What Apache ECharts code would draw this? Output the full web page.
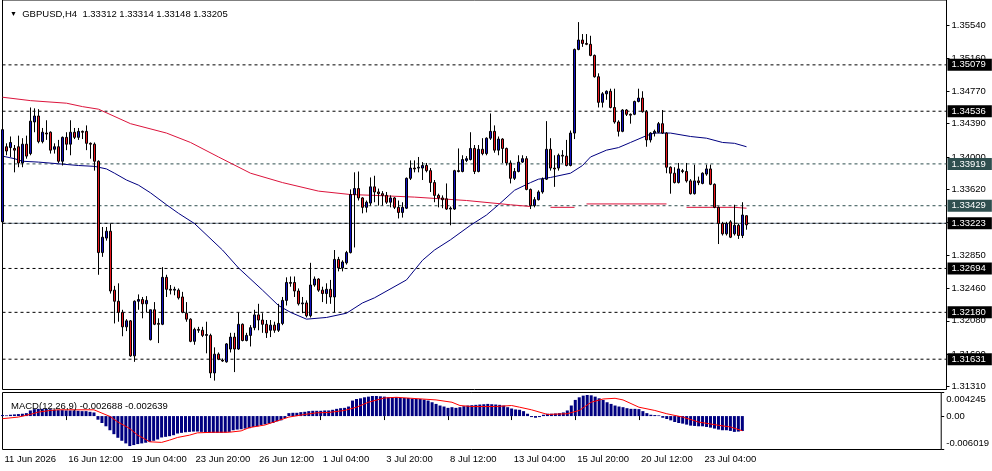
<!DOCTYPE html>
<html>
<head>
<meta charset="utf-8">
<title>GBPUSD H4</title>
<script src="https://cdn.jsdelivr.net/npm/echarts@6/dist/echarts.min.js"></script>
<style>
html,body{margin:0;padding:0;background:#fff;}
#chart{width:992px;height:471px;}
</style>
</head>
<body>
<div id="chart"></div>
<script>
// header texts
var symbolText = 'GBPUSD,H4  1.33312 1.33314 1.33148 1.33205';
var macdText = 'MACD(12,26,9) -0.002688 -0.002639';

// time axis labels, one every 16 bars
var xTickLabels = ['11 Jun 2026', '16 Jun 12:00', '19 Jun 04:00', '23 Jun 20:00', '26 Jun 12:00', '1 Jul 04:00',
  '3 Jul 20:00', '8 Jul 12:00', '13 Jul 04:00', '15 Jul 20:00', '20 Jul 12:00', '23 Jul 04:00'];

// price scale labels
var priceTicks = [1.3131, 1.3169, 1.3208, 1.3246, 1.3285, 1.3324, 1.3362, 1.3400, 1.3439, 1.3477, 1.3516, 1.3554];
var macdTicks = [-0.006019, 0, 0.004245];

// horizontal levels
var blackLevels = [1.35079, 1.34536, 1.32694, 1.32180, 1.31631];
var slateLevels = [1.33919, 1.33429];
var bidPrice = 1.33223;

// H4 bars
var opens = [1.3324,1.3412,1.3411,1.3410,1.3412,1.3393,1.3415,1.3404,1.3441,1.3448,
  1.3418,1.3428,1.3429,1.3409,1.3412,1.3395,1.3423,1.3415,1.3429,1.3423,
  1.3430,1.3430,1.3416,1.3415,1.3395,1.3288,1.3305,1.3313,1.3244,1.3231,
  1.3218,1.3201,1.3208,1.3167,1.3231,1.3233,1.3228,1.3186,1.3221,1.3205,
  1.3204,1.3259,1.3245,1.3244,1.3244,1.3236,1.3217,1.3210,1.3184,1.3198,
  1.3197,1.3191,1.3191,1.3147,1.3169,1.3162,1.3160,1.3175,1.3189,1.3175,
  1.3204,1.3185,1.3191,1.3200,1.3215,1.3209,1.3204,1.3197,1.3203,1.3197,
  1.3205,1.3232,1.3253,1.3253,1.3243,1.3228,1.3229,1.3214,1.3250,1.3257,
  1.3244,1.3240,1.3245,1.3236,1.3280,1.3270,1.3276,1.3288,1.3356,1.3363,
  1.3352,1.3341,1.3346,1.3365,1.3359,1.3357,1.3355,1.3347,1.3352,1.3341,
  1.3335,1.3340,1.3375,1.3387,1.3387,1.3387,1.3390,1.3384,1.3370,1.3355,
  1.3352,1.3351,1.3339,1.3339,1.3384,1.3383,1.3396,1.3397,1.3410,1.3383,
  1.3409,1.3404,1.3422,1.3430,1.3408,1.3421,1.3410,1.3393,1.3375,1.3383,
  1.3394,1.3398,1.3362,1.3343,1.3350,1.3359,1.3374,1.3409,1.3387,1.3387,
  1.3402,1.3401,1.3390,1.3428,1.3526,1.3537,1.3533,1.3532,1.3519,1.3494,
  1.3464,1.3474,1.3477,1.3458,1.3441,1.3430,1.3455,1.3450,1.3450,1.3465,
  1.3469,1.3453,1.3420,1.3428,1.3429,1.3439,1.3428,1.3388,1.3381,1.3370,
  1.3384,1.3383,1.3372,1.3357,1.3372,1.3369,1.3380,1.3386,1.3368,1.3341,
  1.3322,1.3310,1.3324,1.3310,1.3320,1.3308,1.33312];
var highs = [1.3434,1.3416,1.3424,1.3414,1.3425,1.3422,1.3425,1.3458,1.3457,1.3456,
  1.3434,1.3443,1.3430,1.3416,1.3420,1.3424,1.3429,1.3443,1.3434,1.3434,
  1.3431,1.3437,1.3417,1.3417,1.3396,1.3318,1.3318,1.3322,1.3249,1.3252,
  1.3221,1.3210,1.3209,1.3232,1.3239,1.3236,1.3237,1.3221,1.3230,1.3211,
  1.3271,1.3262,1.3250,1.3248,1.3246,1.3242,1.3230,1.3211,1.3200,1.3201,
  1.3201,1.3207,1.3193,1.3177,1.3171,1.3164,1.3182,1.3194,1.3194,1.3218,
  1.3205,1.3194,1.3203,1.3221,1.3228,1.3217,1.3209,1.3209,1.3207,1.3228,
  1.3236,1.3259,1.3260,1.3260,1.3246,1.3236,1.3232,1.3276,1.3260,1.3258,
  1.3248,1.3252,1.3256,1.3291,1.3283,1.3279,1.3290,1.3362,1.3382,1.3383,
  1.3353,1.3349,1.3376,1.3378,1.3363,1.3360,1.3359,1.3355,1.3353,1.3349,
  1.3347,1.3376,1.3396,1.3396,1.3400,1.3394,1.3393,1.3387,1.3373,1.3357,
  1.3355,1.3369,1.3342,1.3385,1.3410,1.3402,1.3401,1.3429,1.3414,1.3414,
  1.3422,1.3423,1.3451,1.3437,1.3424,1.3422,1.3411,1.3396,1.3387,1.3402,
  1.3402,1.3401,1.3363,1.3353,1.3361,1.3376,1.3442,1.3422,1.3402,1.3404,
  1.3408,1.3420,1.3431,1.3527,1.3558,1.3544,1.3544,1.3542,1.3520,1.3498,
  1.3476,1.3478,1.3480,1.3480,1.3443,1.3456,1.3456,1.3451,1.3466,1.3480,
  1.3477,1.3455,1.3429,1.3432,1.3441,1.3455,1.3429,1.3389,1.3388,1.3393,
  1.3386,1.3393,1.3374,1.3391,1.3377,1.3382,1.3391,1.3391,1.3369,1.3342,
  1.3324,1.3324,1.3326,1.3344,1.3322,1.3347,1.33314];
var lows = [1.3322,1.3402,1.3400,1.3382,1.3388,1.3388,1.3398,1.3402,1.3429,1.3416,
  1.3416,1.3420,1.3404,1.3404,1.3393,1.3390,1.3408,1.3402,1.3421,1.3420,
  1.3421,1.3408,1.3398,1.3384,1.3262,1.3283,1.3302,1.3240,1.3205,1.3207,
  1.3190,1.3196,1.3166,1.3160,1.3221,1.3211,1.3218,1.3185,1.3203,1.3182,
  1.3203,1.3236,1.3239,1.3238,1.3233,1.3217,1.3207,1.3183,1.3180,1.3194,
  1.3189,1.3170,1.3141,1.3138,1.3162,1.3160,1.3159,1.3171,1.3148,1.3174,
  1.3184,1.3184,1.3178,1.3197,1.3197,1.3194,1.3188,1.3189,1.3194,1.3195,
  1.3203,1.3226,1.3248,1.3236,1.3226,1.3217,1.3212,1.3212,1.3248,1.3242,
  1.3230,1.3228,1.3228,1.3218,1.3266,1.3266,1.3274,1.3287,1.3294,1.3349,
  1.3334,1.3335,1.3343,1.3347,1.3343,1.3343,1.3345,1.3341,1.3339,1.3328,
  1.3329,1.3339,1.3373,1.3382,1.3382,1.3373,1.3382,1.3359,1.3347,1.3341,
  1.3340,1.3338,1.3320,1.3338,1.3382,1.3382,1.3394,1.3396,1.3380,1.3382,
  1.3402,1.3402,1.3420,1.3405,1.3402,1.3393,1.3390,1.3369,1.3373,1.3382,
  1.3393,1.3361,1.3339,1.3341,1.3349,1.3357,1.3373,1.3384,1.3365,1.3384,
  1.3393,1.3389,1.3389,1.3421,1.3525,1.3529,1.3531,1.3518,1.3493,1.3458,
  1.3458,1.3467,1.3457,1.3439,1.3424,1.3429,1.3448,1.3439,1.3449,1.3464,
  1.3452,1.3412,1.3417,1.3424,1.3428,1.3427,1.3381,1.3357,1.3369,1.3369,
  1.3381,1.3370,1.3356,1.3356,1.3367,1.3368,1.3378,1.3367,1.3340,1.3298,
  1.3308,1.3308,1.3305,1.3308,1.3304,1.3305,1.33148];
var closes = [1.3432,1.3407,1.3417,1.3408,1.3393,1.3415,1.3401,1.3442,1.3448,1.3418,
  1.3429,1.3427,1.3408,1.3412,1.3395,1.3423,1.3415,1.3429,1.3423,1.3430,
  1.3429,1.3416,1.3415,1.3395,1.3288,1.3306,1.3313,1.3243,1.3231,1.3218,
  1.3201,1.3208,1.3167,1.3231,1.3233,1.3228,1.3232,1.3221,1.3204,1.3204,
  1.3259,1.3245,1.3244,1.3245,1.3235,1.3218,1.3210,1.3184,1.3198,1.3197,
  1.3191,1.3192,1.3147,1.3169,1.3163,1.3161,1.3181,1.3189,1.3175,1.3204,
  1.3185,1.3191,1.3200,1.3215,1.3209,1.3204,1.3194,1.3203,1.3197,1.3205,
  1.3232,1.3253,1.3252,1.3243,1.3228,1.3229,1.3214,1.3250,1.3257,1.3244,
  1.3240,1.3245,1.3236,1.3280,1.3270,1.3277,1.3288,1.3356,1.3363,1.3352,
  1.3341,1.3347,1.3365,1.3359,1.3357,1.3355,1.3347,1.3352,1.3341,1.3335,
  1.3341,1.3375,1.3387,1.3386,1.3388,1.3390,1.3384,1.3370,1.3355,1.3352,
  1.3350,1.3339,1.3340,1.3384,1.3383,1.3397,1.3398,1.3410,1.3383,1.3409,
  1.3404,1.3422,1.3430,1.3408,1.3421,1.3410,1.3393,1.3375,1.3383,1.3394,
  1.3398,1.3362,1.3343,1.3350,1.3359,1.3374,1.3409,1.3387,1.3386,1.3402,
  1.3401,1.3390,1.3428,1.3526,1.3537,1.3533,1.3532,1.3519,1.3494,1.3464,
  1.3474,1.3477,1.3458,1.3441,1.3430,1.3455,1.3450,1.3449,1.3465,1.3469,
  1.3453,1.3420,1.3428,1.3430,1.3439,1.3428,1.3388,1.3381,1.3370,1.3386,
  1.3383,1.3372,1.3357,1.3372,1.3370,1.3381,1.3386,1.3368,1.3341,1.3322,
  1.3310,1.3322,1.3306,1.3320,1.3308,1.3332,1.33205];

// moving averages: [bar, price]
var maBlue = [[0,1.3401],[3,1.3398],[5,1.3395],[9,1.3394],[14,1.3392],[19,1.3390],[23,1.3389],[26,1.3386],
  [28,1.3381],[31,1.3373],[34,1.3367],[37,1.3358],[41,1.3344],[44,1.3334],[48,1.3322],[55,1.3291],
  [59,1.3270],[65,1.3244],[69,1.3226],[72,1.3218],[76,1.3210],[81,1.3212],[86,1.3217],[90,1.3229],
  [93,1.3235],[101,1.3256],[105,1.3279],[108,1.3291],[112,1.3303],[117,1.3320],[121,1.3332],[124,1.3344],
  [128,1.3361],[132,1.3370],[134,1.3374],[137,1.3376],[142,1.3381],[145,1.3390],[147,1.3400],[151,1.3408],
  [154,1.3411],[157,1.3417],[161,1.3425],[163,1.3428],[167,1.3428],[172,1.3424],[176,1.3422],[180,1.3417],
  [183,1.3416],[186,1.3412]];
var maRed = [[0,1.3470],[7,1.3466],[16,1.3463],[20,1.3459],[24,1.3456],[32,1.3439],[41,1.3428],[47,1.3417],
  [54,1.3400],[62,1.3381],[70,1.3370],[79,1.3360],[87,1.3356],[93,1.3355],[103,1.3353],[116,1.3349],
  [127,1.3344],[132,1.3342],[134,null],[137,1.3341],[143,1.3341],[144,null],[146,1.3345],[166,1.3345],
  [168,null],[171,1.3341],[183,1.3341],[186,1.3340]];

// MACD(12,26,9) histogram, one value per bar
var macdHist = [0.00018,0.00012,0.00024,0.0003,0.00036,0.00042,0.00053,0.00101,0.00125,0.0013,
  0.0013,0.0013,0.00125,0.00113,0.00107,0.00107,0.00101,0.00101,0.00101,0.00095,
  0.00089,0.00089,0.00077,0.00065,-0.00065,-0.00125,-0.00184,-0.00255,-0.00326,-0.00391,
  -0.00445,-0.00492,-0.0054,-0.00522,-0.00504,-0.00492,-0.0048,-0.00463,-0.00445,-0.00421,
  -0.00385,-0.00374,-0.00362,-0.00344,-0.00314,-0.00302,-0.00291,-0.00285,-0.00279,-0.00279,
  -0.00285,-0.00297,-0.00302,-0.00302,-0.00302,-0.00302,-0.00297,-0.00285,-0.00255,-0.00243,
  -0.00237,-0.00225,-0.00219,-0.00196,-0.00184,-0.0016,-0.00148,-0.00136,-0.00125,-0.00095,
  -0.00077,-0.00036,0.00053,0.00059,0.00059,0.00071,0.00077,0.00089,0.00095,0.00095,
  0.00095,0.00101,0.00101,0.00113,0.0013,0.00142,0.00148,0.00172,0.00279,0.00308,
  0.0032,0.00338,0.0035,0.00362,0.00362,0.00356,0.0035,0.00338,0.00338,0.00338,
  0.00326,0.00326,0.00326,0.00314,0.00308,0.00308,0.00297,0.00279,0.00249,0.00219,
  0.0019,0.00172,0.00148,0.0016,0.00148,0.0016,0.00178,0.0019,0.00196,0.00202,
  0.00208,0.00213,0.00219,0.00213,0.00208,0.00202,0.0019,0.0016,0.00136,0.00119,
  0.00113,0.00089,0.00042,-0.00018,-0.0003,-0.00018,0.00024,0.00042,0.00042,0.00047,
  0.00053,0.00065,0.00101,0.0019,0.00291,0.00338,0.00368,0.0038,0.00374,0.0035,
  0.0032,0.00291,0.00249,0.00219,0.0019,0.00172,0.0016,0.00142,0.0013,0.0013,
  0.00125,0.00089,0.00053,0.00024,0.00018,0.00012,-0.0003,-0.00053,-0.00077,-0.00107,
  -0.00125,-0.00136,-0.00154,-0.00172,-0.00178,-0.00184,-0.00184,-0.00196,-0.00208,-0.00225,
  -0.00243,-0.00255,-0.00255,-0.00267,-0.00285,-0.00279,-0.002688];
var macdSignal = [[0,-0.00047],[4,-0.00018],[7,0.0003],[9,0.00071],[12,0.00101],[14,0.00113],[23,0.00113],
  [25,0.00053],[27,-0.00006],[29,-0.00107],[32,-0.00225],[34,-0.00344],[36,-0.00421],[37,-0.00463],
  [40,-0.00474],[42,-0.00433],[44,-0.00385],[47,-0.00344],[49,-0.00302],[53,-0.00291],[57,-0.00291],
  [60,-0.00267],[62,-0.00208],[66,-0.0016],[69,-0.00089],[72,-0.00018],[76,0.0003],[79,0.00059],
  [82,0.00065],[86,0.00101],[89,0.0016],[92,0.00249],[96,0.00326],[99,0.00338],[109,0.00291],
  [113,0.00249],[115,0.0019],[118,0.00172],[124,0.00172],[128,0.0019],[130,0.0016],[133,0.00113],
  [137,0.0003],[142,0.00042],[145,0.00101],[148,0.00249],[151,0.00308],[154,0.0032],[156,0.00291],
  [160,0.0016],[164,0.00101],[167,0.00042],[171,-0.00018],[175,-0.00107],[180,-0.00166],[183,-0.00196],
  [186,-0.002639]];

var FONT = 'Liberation Sans';
var slots = 237;               // visible bar slots across the window
var cats = [];
for (var i = 0; i < slots; i++) cats.push(String(i));

var candles = opens.map(function (o, i) {
  return [o, closes[i], lows[i], highs[i]];
});

// one horizontal line series per level, label box on the price scale
function levelSeries(v, color, dash, bg, withLabel) {
  return {
    type: 'line', xAxisIndex: 0, yAxisIndex: 0, silent: true, z: 1,
    data: [[0, v], [slots - 1, v]], symbol: 'none',
    lineStyle: {color: color, type: dash, width: 1},
    endLabel: {
      show: withLabel, distance: 1,
      formatter: v.toFixed(5), color: '#fff', backgroundColor: bg,
      padding: [1, 6, 1, 4], fontSize: 9.5, fontFamily: FONT, lineHeight: 10
    }
  };
}

var levelLines = [];
levelLines.push(levelSeries(bidPrice, '#778899', 'solid', '#000', false));
blackLevels.forEach(function (v) { levelLines.push(levelSeries(v, '#000', [3, 3], '#000', true)); });
slateLevels.forEach(function (v) { levelLines.push(levelSeries(v, '#2f4f4f', [3, 3], '#2f4f4f', true)); });
levelLines.push(levelSeries(bidPrice, '#000', [3, 3], '#000', true));

function showTick(idx) { return idx % 16 === 0 && idx / 16 < xTickLabels.length; }

var chart = echarts.init(document.getElementById('chart'));
chart.setOption({
  animation: false,
  backgroundColor: '#fff',
  title: [{
    text: '{t|▼}  ' + symbolText, left: 5, top: 4,
    textStyle: {fontSize: 9.5, fontWeight: 'normal', color: '#000', fontFamily: FONT,
      rich: {t: {fontSize: 7, color: '#000'}}}
  }, {
    text: macdText, left: 6, top: 396,
    textStyle: {fontSize: 9.5, fontWeight: 'normal', color: '#000', fontFamily: FONT}
  }],
  grid: [
    {left: 2.5, right: 45.5, top: -0.5, height: 390, show: true, borderColor: '#000', borderWidth: 1},
    {left: 2.5, right: 45.5, top: 392.5, height: 57, show: true, borderColor: '#000', borderWidth: 1}
  ],
  xAxis: [{
    type: 'category', gridIndex: 0, data: cats, boundaryGap: false,
    axisLine: {show: false}, axisTick: {show: false}, axisLabel: {show: false}, splitLine: {show: false}
  }, {
    type: 'category', gridIndex: 1, data: cats, boundaryGap: false,
    axisLine: {show: false},
    axisTick: {show: true, length: 4, interval: showTick, lineStyle: {color: '#000'}},
    axisLabel: {
      show: true, interval: showTick, align: 'left', margin: 5, padding: [0, 0, 0, 2],
      color: '#000', fontSize: 9.5, fontFamily: FONT,
      formatter: function (v) { return xTickLabels[Number(v) / 16]; }
    },
    splitLine: {show: false}
  }],
  yAxis: [{
    type: 'value', gridIndex: 0, position: 'right', min: 1.31276, max: 1.35839,
    splitLine: {show: false}, axisLine: {show: false},
    axisTick: {show: true, length: 3, customValues: priceTicks, lineStyle: {color: '#000'}},
    axisLabel: {
      customValues: priceTicks, margin: 5, color: '#000', fontSize: 9.5, fontFamily: FONT,
      formatter: function (v) { return v.toFixed(5); }
    }
  }, {
    type: 'value', gridIndex: 1, position: 'right', min: -0.006019, max: 0.004245,
    splitLine: {show: false}, axisLine: {show: false},
    axisTick: {show: true, length: 3, customValues: macdTicks, lineStyle: {color: '#000'}},
    axisLabel: {
      customValues: macdTicks, margin: 5, color: '#000', fontSize: 9.5, fontFamily: FONT,
      formatter: function (v) {
        if (v > 0.004) return '{hi|' + v.toFixed(6) + '}';
        if (v < -0.006) return '{lo|' + v.toFixed(6) + '}';
        return '0.00';
      },
      rich: {
        hi: {fontSize: 9.5, fontFamily: FONT, color: '#000', padding: [14, 0, 0, 0]},
        lo: {fontSize: 9.5, fontFamily: FONT, color: '#000', padding: [0, 0, 12, 0]}
      }
    }
  }],
  series: levelLines.concat([{
    name: 'GBPUSD', type: 'candlestick', xAxisIndex: 0, yAxisIndex: 0,
    data: candles, barWidth: 3,
    itemStyle: {color: '#1010c0', color0: '#e8141c', borderColor: '#000', borderColor0: '#000', borderWidth: 1},
    z: 3
  }, {
    name: 'MA fast', type: 'line', xAxisIndex: 0, yAxisIndex: 0, data: maBlue,
    showSymbol: false, connectNulls: false,
    lineStyle: {color: '#000080', width: 1}, z: 2
  }, {
    name: 'MA slow', type: 'line', xAxisIndex: 0, yAxisIndex: 0, data: maRed,
    showSymbol: false, connectNulls: false,
    lineStyle: {color: '#dc143c', width: 1}, z: 2
  }, {
    name: 'MACD', type: 'bar', xAxisIndex: 1, yAxisIndex: 1, data: macdHist,
    barWidth: 3, itemStyle: {color: '#000080'}
  }, {
    name: 'Signal', type: 'line', xAxisIndex: 1, yAxisIndex: 1, data: macdSignal,
    showSymbol: false, lineStyle: {color: '#ff0000', width: 1}
  }])
});
</script>
</body>
</html>
